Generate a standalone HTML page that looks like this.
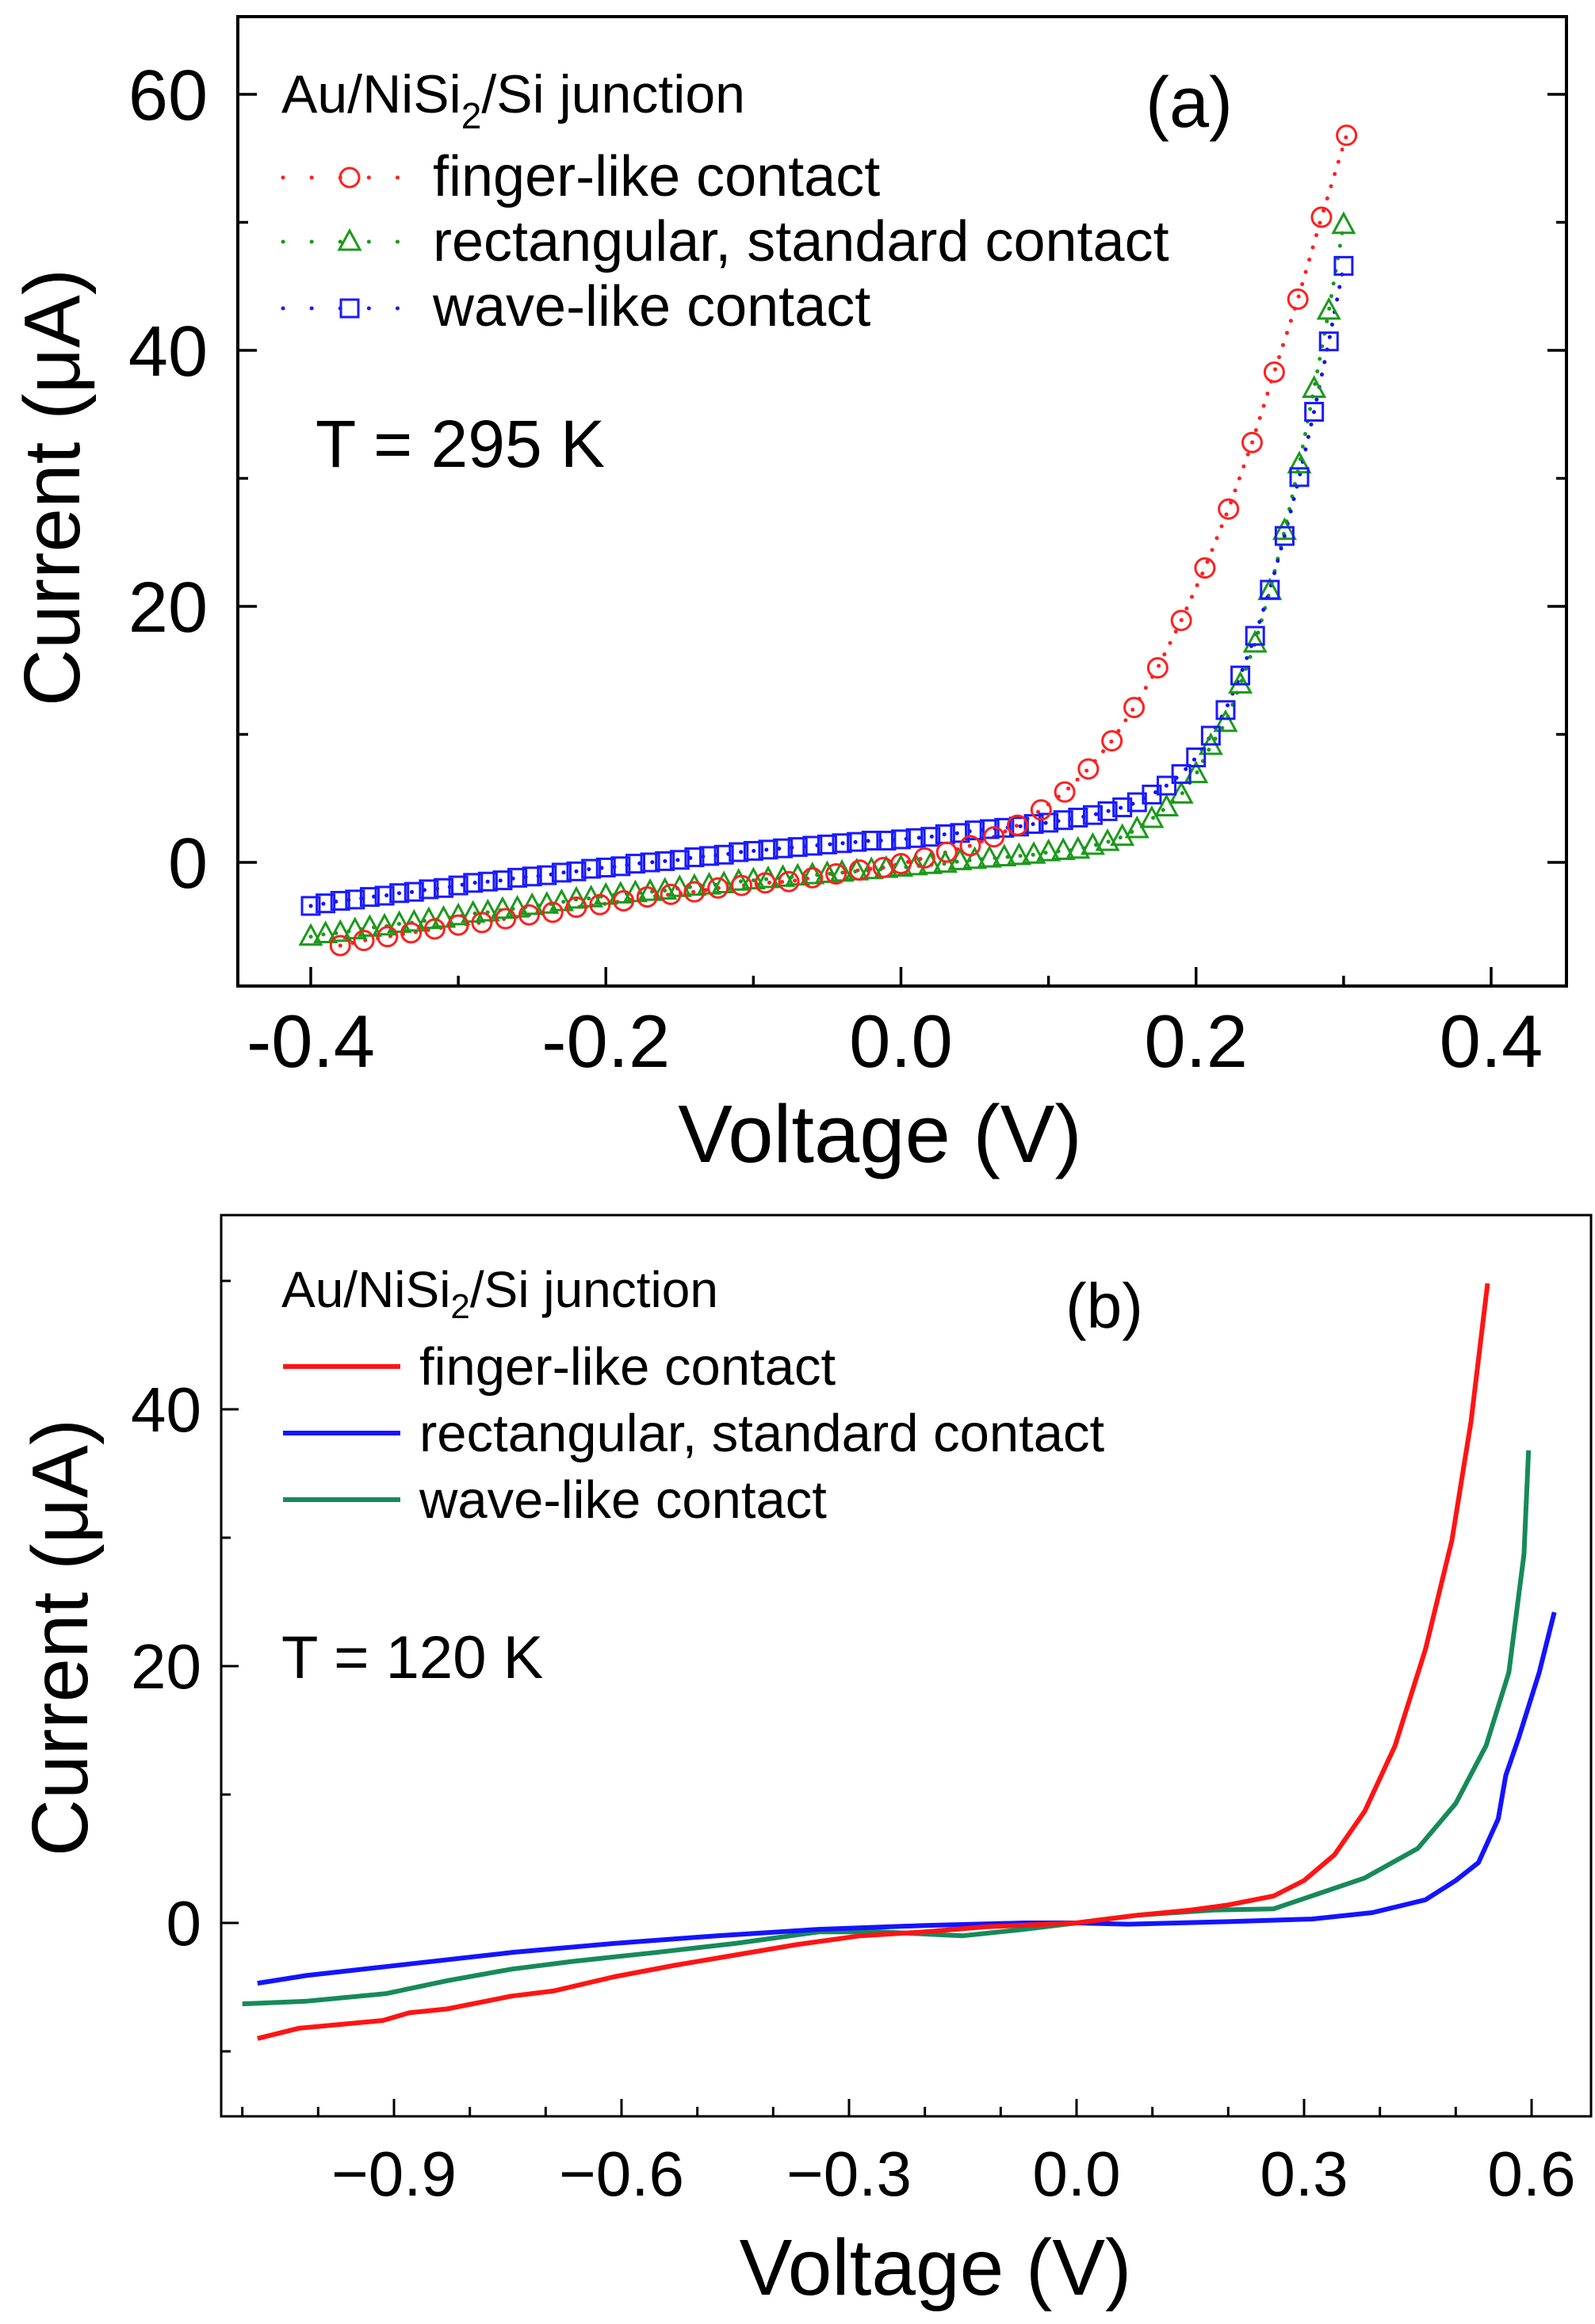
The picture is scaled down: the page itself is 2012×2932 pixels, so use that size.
<!DOCTYPE html>
<html><head><meta charset="utf-8">
<style>
html,body{margin:0;padding:0;background:#fff;}
svg{display:block;font-family:"Liberation Sans",Arial,sans-serif;}
</style></head>
<body>
<svg id="fig" width="2012" height="2932" viewBox="0 0 2012 2932" xmlns="http://www.w3.org/2000/svg">
<rect width="2012" height="2932" fill="#fff"/>
<g id="pa"></g>
<g id="pb"></g>
</svg>
<script>
// ---------- Panel (a) data ----------
const aFingerX = [-0.38,-0.364,-0.348,-0.332,-0.316,-0.300,-0.284,-0.268,-0.252,-0.236,-0.220,-0.204,-0.188,-0.172,-0.156,-0.140,-0.124,-0.108,-0.092,-0.076,-0.060,-0.044,-0.028,-0.012,0.000,0.016,0.031,0.047,0.063,0.079,0.095,0.111,0.127,0.143,0.158,0.174,0.190,0.206,0.222,0.238,0.253,0.269,0.285,0.302];
const aFingerY = [-6.5,-6.1,-5.8,-5.5,-5.2,-4.9,-4.7,-4.4,-4.1,-3.9,-3.5,-3.3,-3.0,-2.7,-2.5,-2.3,-2.0,-1.8,-1.6,-1.5,-1.2,-0.9,-0.6,-0.4,-0.1,0.35,0.8,1.3,2.0,2.9,4.1,5.5,7.3,9.5,12.1,15.2,18.9,23.0,27.6,32.8,38.3,44.0,50.4,56.8];
const aRectX = [-0.40,-0.39,-0.38,-0.37,-0.36,-0.35,-0.34,-0.33,-0.32,-0.31,-0.30,-0.29,-0.28,-0.27,-0.26,-0.25,-0.24,-0.23,-0.22,-0.21,-0.20,-0.19,-0.18,-0.17,-0.16,-0.15,-0.14,-0.13,-0.12,-0.11,-0.10,-0.09,-0.08,-0.07,-0.06,-0.05,-0.04,-0.03,-0.02,-0.01,0.00,0.01,0.02,0.03,0.04,0.05,0.06,0.07,0.08,0.09,0.10,0.11,0.12,0.13,0.14,0.15,0.16,0.17,0.18,0.19,0.20,0.21,0.22,0.23,0.24,0.25,0.26,0.27,0.28,0.29,0.30];
const aRectY = [-5.8,-5.6,-5.5,-5.3,-5.1,-5.0,-4.8,-4.7,-4.5,-4.4,-4.2,-4.0,-3.9,-3.7,-3.6,-3.4,-3.3,-3.1,-2.9,-2.8,-2.6,-2.5,-2.4,-2.3,-2.2,-2.0,-1.9,-1.8,-1.7,-1.5,-1.4,-1.3,-1.2,-1.1,-1.0,-0.9,-0.8,-0.7,-0.6,-0.5,-0.4,-0.3,-0.2,-0.1,0.1,0.2,0.3,0.4,0.5,0.6,0.8,0.9,1.0,1.3,1.6,2.0,2.6,3.4,4.3,5.3,6.9,9.1,10.9,13.9,17.1,21.2,25.9,31.1,37.0,43.1,49.8];
const aWaveX = aRectX;
const aWaveY = [-3.4,-3.2,-3.0,-2.9,-2.7,-2.6,-2.4,-2.3,-2.1,-2.0,-1.8,-1.6,-1.5,-1.4,-1.2,-1.1,-1.0,-0.8,-0.7,-0.5,-0.4,-0.3,-0.1,0.0,0.1,0.2,0.4,0.5,0.6,0.8,0.9,1.0,1.1,1.2,1.3,1.4,1.5,1.6,1.7,1.7,1.8,1.9,2.0,2.2,2.3,2.5,2.6,2.7,2.8,3.0,3.1,3.3,3.5,3.7,4.0,4.3,4.7,5.3,6.0,6.9,8.2,9.9,11.9,14.6,17.7,21.3,25.5,30.1,35.2,40.7,46.6];
const aXTicks = [-0.4,-0.2,0.0,0.2,0.4];
const aXTickLabels = ["-0.4","-0.2","0.0","0.2","0.4"];
const aYTicks = [0,20,40,60];
const aYTickLabels = ["0","20","40","60"];

// ---------- Panel (b) data ----------
const bFingerX = [-1.08,-1.025,-0.915,-0.88,-0.83,-0.745,-0.69,-0.61,-0.53,-0.45,-0.37,-0.285,-0.2,-0.12,0,0.08,0.15,0.2,0.26,0.3,0.34,0.38,0.42,0.46,0.495,0.52,0.542];
const bFingerY = [-9.0,-8.2,-7.6,-7.0,-6.7,-5.7,-5.3,-4.2,-3.3,-2.5,-1.7,-1.0,-0.7,-0.3,0,0.6,1.0,1.4,2.1,3.3,5.3,8.7,13.8,21.3,29.8,39.0,49.8];
const bRectX = [-1.08,-1.016,-0.88,-0.745,-0.61,-0.474,-0.34,-0.2,-0.068,0,0.068,0.2,0.31,0.39,0.46,0.5,0.53,0.556,0.566,0.583,0.61,0.63];
const bRectY = [-4.7,-4.1,-3.2,-2.3,-1.6,-1.0,-0.5,-0.2,0.0,0,-0.1,0.1,0.3,0.8,1.8,3.3,4.7,8.1,11.5,14.4,19.5,24.2];
const bWaveX = [-1.10,-1.016,-0.91,-0.83,-0.745,-0.665,-0.555,-0.45,-0.34,-0.26,-0.15,-0.07,0,0.08,0.18,0.26,0.31,0.38,0.45,0.50,0.54,0.57,0.59,0.596];
const bWaveY = [-6.3,-6.1,-5.5,-4.5,-3.6,-3.0,-2.3,-1.6,-0.7,-0.7,-1.0,-0.5,0,0.6,1.0,1.1,2.1,3.5,5.8,9.3,13.8,19.5,28.7,36.8];
const bXTicks = [-0.9,-0.6,-0.3,0.0,0.3,0.6];
const bXTickLabels = ["\u22120.9","\u22120.6","\u22120.3","0.0","0.3","0.6"];
const bYTicks = [0,20,40];
const bYTickLabels = ["0","20","40"];

const NS = "http://www.w3.org/2000/svg";
function mk(parent, tag, attrs, text){
  const e = document.createElementNS(NS, tag);
  for (const k in attrs) e.setAttribute(k, attrs[k]);
  if (text !== undefined) e.textContent = text;
  parent.appendChild(e);
  return e;
}
function scale(d0,d1,r0,r1){ return v => r0 + (v-d0)/(d1-d0)*(r1-r0); }

// ===== Panel A =====
const A = document.getElementById('pa');
const aL=300,aR=1976,aT=21,aB=1244;
const ax = scale(-0.4,0.4,392,1881);
const ay = scale(0,60,1088,119);
const frameA = mk(A,'rect',{x:aL,y:aT,width:aR-aL,height:aB-aT,fill:'none',stroke:'#000','stroke-width':4});


for (let k=-4; k<=4; k++){
  const v=k*0.1;
  const major = k%2===0;
  const len = major?24:13;
  const t = mk(A,'line',{x1:ax(v),x2:ax(v),y1:aB,y2:aB-len,stroke:'#000','stroke-width':3.5});
  
  
}
aXTicks.forEach((v,i)=>{
  const t = mk(A,'text',{x:ax(v),y:1346,'font-size':94,'text-anchor':'middle',fill:'#000'},aXTickLabels[i]);
  
  
});
for (let v=0; v<=60; v+=10){
  const major = v%20===0;
  const len = major?24:13;
  [[aL,aL+len],[aR,aR-len]].forEach(p=>{
    const t = mk(A,'line',{x1:p[0],x2:p[1],y1:ay(v),y2:ay(v),stroke:'#000','stroke-width':3.5});
    
    
  });
}
aYTicks.forEach((v,i)=>{
  const t = mk(A,'text',{x:262,y:ay(v)+32,'font-size':90,'text-anchor':'end',fill:'#000'},aYTickLabels[i]);
  
  
});
let tt = mk(A,'text',{x:1110,y:1466,'font-size':103,'text-anchor':'middle',fill:'#000'},'Voltage (V)');


tt = mk(A,'text',{x:0,y:0,'font-size':100,'text-anchor':'middle',fill:'#000',transform:'translate(100,615) rotate(-90)'},'Current (\u03bcA)');



function dotted(parent,xs,ys,sx,sy,color,name){
  const pts = xs.map((x,i)=>sx(x).toFixed(1)+','+sy(ys[i]).toFixed(1)).join(' ');
  const p = mk(parent,'polyline',{points:pts,fill:'none',stroke:color,'stroke-width':5,'stroke-dasharray':'0.1 16','stroke-linecap':'round'});
  
  
}
function marker(parent,type,cx,cy,color,name){
  let m;
  if (type==='circle') m = mk(parent,'circle',{cx:cx,cy:cy,r:12,fill:'none',stroke:color,'stroke-width':3});
  else if (type==='tri') m = mk(parent,'polygon',{points:`${cx},${cy-14} ${cx-13},${cy+10} ${cx+13},${cy+10}`,fill:'none',stroke:color,'stroke-width':3});
  else m = mk(parent,'rect',{x:cx-11,y:cy-11,width:22,height:22,fill:'none',stroke:color,'stroke-width':3});
  
  
}
const gA = mk(A,'g',{});


dotted(gA,aRectX,aRectY,ax,ay,'#1b9a1b','rect-line');
dotted(gA,aWaveX,aWaveY,ax,ay,'#1010ff','wave-line');
dotted(gA,aFingerX,aFingerY,ax,ay,'#ff2020','finger-line');
aRectX.forEach((x,i)=>marker(gA,'tri',ax(x),ay(aRectY[i]),'#1b9a1b','rect-point'));
aWaveX.forEach((x,i)=>marker(gA,'sq',ax(x),ay(aWaveY[i]),'#1a1aff','wave-point'));
aFingerX.forEach((x,i)=>marker(gA,'circle',ax(x),ay(aFingerY[i]),'#ff2020','finger-point'));

let lg = mk(A,'text',{x:355,y:142,'font-size':68,fill:'#000'});


lg.innerHTML = 'Au/NiSi<tspan dy="20" font-size="46">2</tspan><tspan dy="-20">/Si junction</tspan>';
const aLeg = [['finger-like contact','circle','#ff2020',224,247],['rectangular, standard contact','tri','#1b9a1b',305,329],['wave-like contact','sq','#1a1aff',389,411]];
aLeg.forEach(l=>{
  const ln = mk(A,'line',{x1:357,x2:505,y1:l[3],y2:l[3],stroke:l[2],'stroke-width':5,'stroke-dasharray':'0.1 36','stroke-linecap':'round'});
  
  
  marker(A,l[1],441,l[3],l[2],'legend-marker');
  const t = mk(A,'text',{x:546,y:l[4],'font-size':72,fill:'#000'},l[0]);
  
  
});
tt = mk(A,'text',{x:1500,y:160,'font-size':90,'text-anchor':'middle',fill:'#000'},'(a)');


tt = mk(A,'text',{x:398,y:589,'font-size':84,fill:'#000'},'T = 295 K');



// ===== Panel B =====
const B = document.getElementById('pb');
const bL=279,bR=2007,bT=1533,bB=2670;
const bx = scale(0,0.6,1358,1932);
const by = scale(0,40,2426,1778);
const frameB = mk(B,'rect',{x:bL,y:bT,width:bR-bL,height:bB-bT,fill:'none',stroke:'#000','stroke-width':3});


for (let k=-11;k<=6;k++){
  const v=k*0.1; if (bx(v)<bL+2||bx(v)>bR-2) continue;
  const major = k%3===0;
  const t = mk(B,'line',{x1:bx(v),x2:bx(v),y1:bB,y2:bB-(major?22:12),stroke:'#000','stroke-width':3});
  
  
}
bXTicks.forEach((v,i)=>{
  const t = mk(B,'text',{x:bx(v),y:2770,'font-size':80,'text-anchor':'middle',fill:'#000'},bXTickLabels[i]);
  
  
});
for (let v=-10; v<=50; v+=10){
  const major = v%20===0;
  const t = mk(B,'line',{x1:bL,x2:bL+(major?22:12),y1:by(v),y2:by(v),stroke:'#000','stroke-width':3});
  
  
}
bYTicks.forEach((v,i)=>{
  const t = mk(B,'text',{x:254,y:by(v)+28,'font-size':80,'text-anchor':'end',fill:'#000'},bYTickLabels[i]);
  
  
});
tt = mk(B,'text',{x:1180,y:2895,'font-size':100,'text-anchor':'middle',fill:'#000'},'Voltage (V)');


tt = mk(B,'text',{x:0,y:0,'font-size':100,'text-anchor':'middle',fill:'#000',transform:'translate(110,2066) rotate(-90)'},'Current (\u03bcA)');


function solid(parent,xs,ys,color,name){
  const pts = xs.map((x,i)=>bx(x).toFixed(1)+','+by(ys[i]).toFixed(1)).join(' ');
  const p = mk(parent,'polyline',{points:pts,fill:'none',stroke:color,'stroke-width':6,'stroke-linejoin':'round'});
  
  
}
solid(B,bWaveX,bWaveY,'#168a5a','wave-line');
solid(B,bRectX,bRectY,'#1414ff','rect-line');
solid(B,bFingerX,bFingerY,'#ff1414','finger-line');
lg = mk(B,'text',{x:355,y:1649,'font-size':64,fill:'#000'});


lg.innerHTML = 'Au/NiSi<tspan dy="14" font-size="44">2</tspan><tspan dy="-14">/Si junction</tspan>';
const bLeg = [['finger-like contact','#ff1414',1724,1747],['rectangular, standard contact','#1414ff',1808,1831],['wave-like contact','#168a5a',1892,1915]];
bLeg.forEach(l=>{
  const ln = mk(B,'line',{x1:357,x2:505,y1:l[2],y2:l[2],stroke:l[1],'stroke-width':6});
  
  
  const t = mk(B,'text',{x:529,y:l[3],'font-size':67,fill:'#000'},l[0]);
  
  
});
tt = mk(B,'text',{x:1393,y:1675,'font-size':80,'text-anchor':'middle',fill:'#000'},'(b)');


tt = mk(B,'text',{x:355,y:2117,'font-size':76,fill:'#000'},'T = 120 K');


</script>
</body></html>
